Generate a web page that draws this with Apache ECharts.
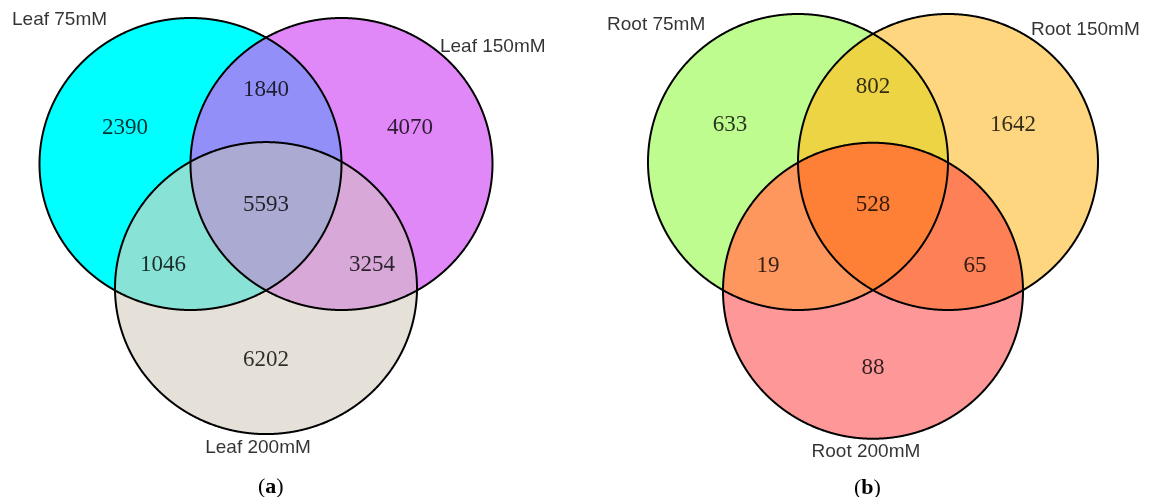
<!DOCTYPE html>
<html><head><meta charset="utf-8">
<script src="https://cdn.jsdelivr.net/npm/echarts@6/dist/echarts.min.js"></script>
<style>html,body{margin:0;padding:0;background:#fff}#c{width:1154px;height:497px}</style>
</head><body><div id="c"></div>
<script>
// ---- data ----
const leafSetNames = ['Leaf 75mM', 'Leaf 150mM', 'Leaf 200mM'];
const rootSetNames = ['Root 75mM', 'Root 150mM', 'Root 200mM'];
// region order: A only, A∩B, B only, A∩B∩C, A∩C, B∩C, C only
const regionKeys = ['A', 'AB', 'B', 'ABC', 'AC', 'BC', 'C'];
const leafCounts = [2390, 1840, 4070, 5593, 1046, 3254, 6202];
const rootCounts = [633, 802, 1642, 528, 19, 65, 88];
const captions = ['a', 'b'];

// ---- layout (Venn units, radius = 1) ----
const layouts = [
  {
    centers: [[-0.5, 0], [0.5, 0], [0, -0.85]],
    countPos: [[-0.934, 0.247], [0, 0.507], [0.954, 0.247], [0, -0.281], [-0.682, -0.692], [0.702, -0.692], [0, -1.342]],
    namePos: [[-1.682, 0.986, 'left'], [1.152, 0.801, 'left'], [-0.053, -1.945, 'center']],
    colors: { A: '#00FFFF', B: '#E088F8', C: '#E6E1D8', AB: '#9290F8', AC: '#88E2D6', BC: '#D8A8D8', ABC: '#AAAAD2' }
  },
  {
    centers: [[-0.5, 0], [0.5, 0], [0, -0.87]],
    countPos: [[-0.953, 0.25], [0, 0.507], [0.933, 0.25], [0, -0.29], [-0.70, -0.703], [0.68, -0.703], [0, -1.39]],
    namePos: [[-1.773, 0.926, 'left'], [1.053, 0.892, 'left'], [-0.047, -1.96, 'center']],
    colors: { A: '#BFFC8F', B: '#FDD67F', C: '#FE9797', AB: '#ECD444', AC: '#FE975E', BC: '#FE8056', ABC: '#FE7F36' }
  }
];
const regionDefs = [[0], [1], [2], [0, 1], [0, 2], [1, 2], [0, 1, 2]];
const regionColorKey = ['A', 'B', 'C', 'AB', 'AC', 'BC', 'ABC'];

function regionPoints(pc, members) {
  const N = 1440, pts = [];
  members.forEach(m => {
    const c = pc[m];
    for (let k = 0; k < N; k++) {
      const t = 2 * Math.PI * k / N;
      const x = c.x + c.rx * Math.cos(t), y = c.y + c.ry * Math.sin(t);
      let ok = true;
      members.forEach(o => {
        if (o !== m) {
          const d = pc[o];
          const dx = (x - d.x) / d.rx, dy = (y - d.y) / d.ry;
          if (dx * dx + dy * dy > 1 + 1e-9) ok = false;
        }
      });
      if (ok) pts.push([x, y]);
    }
  });
  let mx = 0, my = 0;
  pts.forEach(p => { mx += p[0]; my += p[1]; });
  mx /= pts.length; my /= pts.length;
  pts.sort((a, b) => Math.atan2(a[1] - my, a[0] - mx) - Math.atan2(b[1] - my, b[0] - mx));
  return pts;
}

function vennSeries(gi) {
  const L = layouts[gi];
  const items = [];
  regionDefs.forEach((r, i) => items.push([0, 0, i]));
  for (let i = 0; i < 3; i++) items.push([0, 0, 7 + i]);
  return {
    type: 'custom', coordinateSystem: 'cartesian2d', xAxisIndex: gi, yAxisIndex: gi,
    clip: false, silent: true, z: 1,
    data: items,
    renderItem: (params, api) => {
      const idx = api.value(2);
      const pc = L.centers.map(c => {
        const p = api.coord([c[0], c[1]]);
        const s = api.size([1, 1]);
        return { x: p[0], y: p[1], rx: s[0], ry: s[1] };
      });
      if (idx < 7) {
        return {
          type: 'polygon', z2: idx,
          shape: { points: regionPoints(pc, regionDefs[idx]) },
          style: { fill: L.colors[regionColorKey[idx]], stroke: null }
        };
      }
      return {
        type: 'polygon', z2: 20,
        shape: { points: regionPoints(pc, [idx - 7]) },
        style: { fill: null, stroke: '#000', lineWidth: 2 }
      };
    }
  };
}

function countSeries(gi, counts) {
  const L = layouts[gi];
  return {
    type: 'scatter', xAxisIndex: gi, yAxisIndex: gi, clip: false, silent: true, z: 5,
    symbolSize: 1, itemStyle: { color: 'rgba(0,0,0,0)' },
    data: counts.map((v, i) => [L.countPos[i][0], L.countPos[i][1], v]),
    label: {
      show: true, position: 'inside', formatter: p => String(p.value[2]),
      fontFamily: '"Liberation Serif", "Times New Roman", serif', fontSize: 23, color: '#000'
    }
  };
}

function nameSeries(gi, names) {
  const L = layouts[gi];
  return {
    type: 'scatter', xAxisIndex: gi, yAxisIndex: gi, clip: false, silent: true, z: 5,
    symbolSize: 1, itemStyle: { color: 'rgba(0,0,0,0)' },
    data: names.map((n, i) => ({
      name: n, value: [L.namePos[i][0], L.namePos[i][1]],
      label: { align: L.namePos[i][2] }
    })),
    label: {
      show: true, position: 'inside', formatter: p => p.name, verticalAlign: 'middle',
      fontFamily: '"Liberation Sans", Arial, sans-serif', fontSize: 19, color: '#000'
    }
  };
}

const captionStyle = {
  fontFamily: '"Liberation Serif", "Times New Roman", serif', fontSize: 22, color: '#000', fontWeight: 'normal',
  rich: { b: { fontFamily: '"Liberation Serif", "Times New Roman", serif', fontSize: 22, fontWeight: 'bold', color: '#000' } }
};

const chart = echarts.init(document.getElementById('c'));
chart.setOption({
  animation: false,
  backgroundColor: '#fff',
  title: [
    { text: '(' + '{b|' + captions[0] + '}' + ')', left: 258, top: 476, textStyle: captionStyle, padding: 0 },
    { text: '(' + '{b|' + captions[1] + '}' + ')', left: 854, top: 477, textStyle: captionStyle, padding: 0 }
  ],
  grid: [
    { left: 39.5, width: 453, top: 3.4, height: 467.2 },
    { left: 648, width: 450, top: 6.6, height: 466.2 }
  ],
  xAxis: [
    { gridIndex: 0, type: 'value', min: -1.5, max: 1.5, show: false },
    { gridIndex: 1, type: 'value', min: -1.5, max: 1.5, show: false }
  ],
  yAxis: [
    { gridIndex: 0, type: 'value', min: -2.1, max: 1.1, show: false },
    { gridIndex: 1, type: 'value', min: -2.1, max: 1.05, show: false }
  ],
  series: [
    vennSeries(0), vennSeries(1),
    countSeries(0, leafCounts), countSeries(1, rootCounts),
    nameSeries(0, leafSetNames), nameSeries(1, rootSetNames)
  ]
});
</script>
</body></html>
